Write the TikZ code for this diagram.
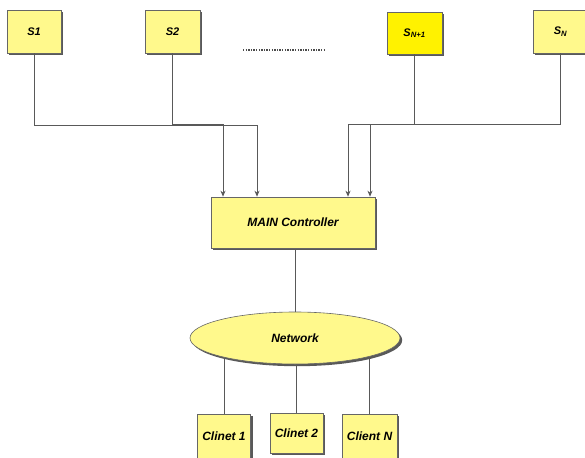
\documentclass[tikz,border=0pt]{standalone}
\usepackage{fontspec}
\setmainfont{Liberation Sans}
\usetikzlibrary{arrows.meta,shadows,shapes.geometric,backgrounds}
\tikzset{
  box/.style={draw=black!60, line width=0.6pt, fill=yellow!45, inner sep=0pt,
    drop shadow={shadow xshift=2.2pt, shadow yshift=-2.2pt, fill=black!65, opacity=1},
    font=\fontsize{12}{14}\selectfont\bfseries\itshape},
  sbox/.style={box, minimum width=54pt, minimum height=43pt, font=\fontsize{11}{13}\selectfont\bfseries\itshape},
  cbox/.style={box, minimum width=53pt, minimum height=44pt},
  wire/.style={draw=black!65, line width=0.8pt},
  arr/.style={wire, -{Stealth[length=6pt,width=5pt]}}
}
\begin{document}
\begin{tikzpicture}[x=1pt,y=-1pt]
\useasboundingbox (0,0) rectangle (585,457);
\clip (0,0) rectangle (585,457);
% sources
\node[sbox] (s1) at (34,31.5) {S1};
\node[sbox, minimum width=55pt] (s2) at (172.5,31.5) {S2};
\node[sbox, minimum width=55pt, minimum height=42pt, fill=yellow] (sn1) at (414.5,33) {S\textsubscript{N+1}};
\node[sbox, minimum width=55pt] (sn) at (560.5,31.5) {S\textsubscript{N}};
% dots
\coordinate (d1) at (243,50);
\coordinate (d2) at (324,50);
\draw[black!70, line width=1.3pt, dash pattern=on 1.4pt off 1.2pt] (d1) -- (d2);
% controller
\node[box, minimum width=164pt, minimum height=51pt] (ctrl) at (293,222.5) {MAIN Controller};
% network
\node[box, ellipse, minimum width=210pt, minimum height=52pt] (net) at (295,338) {Network};
% clients
\node[cbox] (c1) at (224,436) {Clinet 1};
\node[cbox, minimum height=40pt] (c2) at (296.5,433) {Clinet 2};
\node[cbox, minimum width=55pt] (cn) at (369.5,436) {Client N};
% bends
\coordinate (b1) at (257,125);
\coordinate (b2) at (223,124);
\coordinate (b3) at (370,124);
\coordinate (b4) at (348,124.5);
\draw[arr] (s1.south) |- (b1) -- (b1 |- ctrl.north);
\draw[arr] (s2.south) |- (b2) -- (b2 |- ctrl.north);
\draw[arr] (sn1.south) |- (b3) -- (b3 |- ctrl.north);
\draw[arr] (sn.south) |- (b4) -- (b4 |- ctrl.north);
\begin{scope}[on background layer]
% controller to network
\draw[wire] (ctrl.south -| net.north) -- (net.center);
% network to clients
\draw[wire] (c1.north) -- (c1.north |- net.center);
\draw[wire] (c2.north) -- (c2.north |- net.center);
\draw[wire] (cn.north) -- (cn.north |- net.center);
\end{scope}
\end{tikzpicture}
\end{document}
